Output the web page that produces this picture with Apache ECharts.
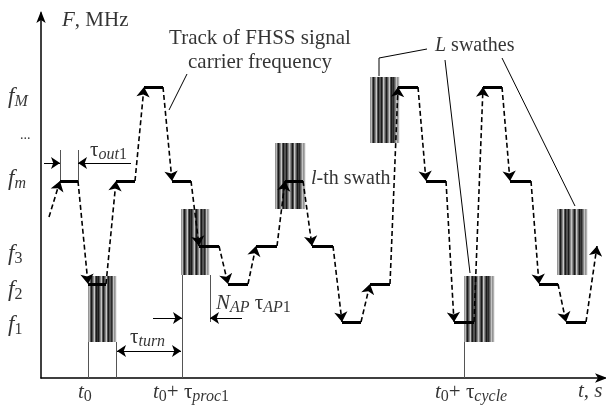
<!DOCTYPE html>
<html><head><meta charset="utf-8">
<script src="https://cdn.jsdelivr.net/npm/echarts@6/dist/echarts.min.js"></script>
<style>html,body{margin:0;padding:0;background:#fff}#c{width:606px;height:408px}</style>
</head><body><div id="c"></div>
<script>
// frequency levels (height above the time axis)
const levels = {f1:56, f2:94, f3:132, fm:197, fM:291};
// hops of the FHSS carrier: dwell start, dwell end, level
const hopStart = [19,47,75,103,131,158,187,215,244,271,301,329,357,385,413,442,469,498,525];
const hopEnd   = [37,65,94,122,150,178,207,236,262,292,320,349,377,405,433,461,490,517,545];
const hopLevel = ['fm','f2','fm','fM','fm','f3','f2','f3','fm','f3','f1','f2','fM','fm','f1','fM','fm','f2','f1'];
const trackStart = [8,161];
const trackEnd = [556,132];
// swathes (analysis windows)
const swathX0 = [47,140,234,329,423,516];
const swathX1 = [75,168,264,358,453,546];
const swathLow = [36,103,169,235,36,103];
const swathHigh = [102,169,235,301,102,169];
// thin vertical guides
const guideX  = [47,75,141,169,423,19,37];
const guideY0 = [0,0,0,56,0,197,197];
const guideY1 = [36,36,103,103,36,228,228];
// dimension arrows [from, to]
const dimArrows = [
  [[3,215],[19,215]], [[90,215],[37,215]],
  [[108,27],[76,27]], [[108,27],[140,27]],
  [[112,60],[141,60]], [[201,60],[169,60]]
];
// callout arrows (polylines)
const callouts = [
  [[146,304],[128,268]],
  [[386,329],[338,320],[338,302]],
  [[404,318],[429,105]],
  [[461,320],[534,172]]
];
// text labels: [x, y, rich text, anchor]
const texts = [
  [21,358,'{i|F}{n|, MHz}','left'],
  [219,340,'{n|Track of FHSS signal}','center'],
  [219,316,'{n|carrier frequency}','center'],
  [270,199,'{ii|l}{nn|-th swath}','left'],
  [394,332,'{ii|L}{nn| swathes}','left'],
  [49,228,'{n|τ}{si|out}{sn|1}','left'],
  [89,41,'{n|τ}{si|turn}','left'],
  [175,75,'{i|N}{si|AP}{n| τ}{si|AP}{sn|1}','left'],
  [-33,281,'{f|f}{si|M}','left'],
  [-21,243,'{d|...}','left'],
  [-33,199,'{f|f}{si|m}','left'],
  [-33,124,'{f|f}{sn|3}','left'],
  [-33,88,'{f|f}{sn|2}','left'],
  [-33,53,'{f|f}{sn|1}','left'],
  [37,-14,'{i|t}{sn|0}','left'],
  [112,-14,'{i|t}{sn|0}{n|+ τ}{si|proc}{sn|1}','left'],
  [394,-14,'{i|t}{sn|0}{n|+ τ}{si|cycle}','left'],
  [537,-13,'{i|t}{n|, }{i|s}','left']
];

const FF = '"Liberation Serif", "Times New Roman", serif';
const rich = {
  n: {fontFamily: FF, fontSize: 21, color: '#000', lineHeight: 24},
  i: {fontFamily: FF, fontSize: 21, color: '#000', fontStyle: 'italic', lineHeight: 24},
  nn: {fontFamily: FF, fontSize: 20, color: '#000', lineHeight: 24},
  ii: {fontFamily: FF, fontSize: 20, color: '#000', fontStyle: 'italic', lineHeight: 24},
  f: {fontFamily: FF, fontSize: 23, color: '#000', fontStyle: 'italic', lineHeight: 24},
  si: {fontFamily: FF, fontSize: 16, color: '#000', fontStyle: 'italic', lineHeight: 15, padding: [10,0,0,0]},
  sn: {fontFamily: FF, fontSize: 16, color: '#000', lineHeight: 15, padding: [10,0,0,0]},
  d: {fontFamily: FF, fontSize: 14, color: '#000', lineHeight: 14}
};

// build track pieces
const dwell = [], moves = [];
let prev = trackStart;
for (let k = 0; k < hopStart.length; k++) {
  const y = levels[hopLevel[k]];
  moves.push({coords: [prev, [hopStart[k], y]]});
  dwell.push({coords: [[hopStart[k], y], [hopEnd[k], y]]});
  prev = [hopEnd[k], y];
}
moves.push({coords: [prev, trackEnd]});

const stripes = [
  [0.03,'#b8b8b8',1.5],[0.11,'#1a1a1a',2],[0.2,'#c8c8c8',1],[0.28,'#1a1a1a',2],
  [0.37,'#1a1a1a',2],[0.46,'#c4c4c4',1],[0.55,'#1a1a1a',2],[0.64,'#c8c8c8',1],
  [0.72,'#1a1a1a',2],[0.81,'#2a2a2a',2],[0.89,'#c4c4c4',1],[0.97,'#b0b0b0',1.5]
];

const chart = echarts.init(document.getElementById('c'), null, {renderer: 'canvas'});
chart.setOption({
  animation: false,
  backgroundColor: '#fff',
  grid: {left: 41, top: 13, width: 564, height: 365},
  xAxis: {type: 'value', min: 0, max: 564, splitLine: {show: false}, axisTick: {show: false},
    axisLabel: {show: false},
    axisLine: {show: true, onZero: false, symbol: ['none','arrow'], symbolSize: [7,12], symbolOffset: [0,2],
      lineStyle: {color: '#000', width: 1.5}}},
  yAxis: {type: 'value', min: 0, max: 365, splitLine: {show: false}, axisTick: {show: false},
    axisLabel: {show: false},
    axisLine: {show: true, onZero: false, symbol: ['none','arrow'], symbolSize: [7,12], symbolOffset: [0,2],
      lineStyle: {color: '#000', width: 1.5}}},
  series: [
    {
      type: 'custom', clip: false, z: 2,
      data: swathX0.map((x, k) => [x, swathX1[k], swathLow[k], swathHigh[k]]),
      renderItem: function (params, api) {
        const a = api.coord([api.value(0), api.value(3)]);
        const b = api.coord([api.value(1), api.value(2)]);
        const w = b[0] - a[0], h = b[1] - a[1];
        const ch = [{type: 'rect', shape: {x: a[0], y: a[1], width: w, height: h}, style: {fill: '#8a8a8a'}}];
        stripes.forEach(s => {
          const xx = Math.round(a[0] + s[0] * w) + 0.5;
          ch.push({type: 'line', shape: {x1: xx, y1: a[1], x2: xx, y2: b[1]},
            style: {stroke: s[1], lineWidth: s[2]}});
        });
        return {type: 'group', children: ch};
      }
    },
    {
      type: 'lines', coordinateSystem: 'cartesian2d', z: 3,
      data: guideX.map((x, k) => ({coords: [[x, guideY0[k]], [x, guideY1[k]]]})),
      symbol: 'none', lineStyle: {color: '#555', width: 1, opacity: 1}
    },
    {
      type: 'lines', coordinateSystem: 'cartesian2d', z: 5,
      data: dwell, symbol: 'none', lineStyle: {color: '#000', width: 3, opacity: 1}
    },
    {
      type: 'lines', coordinateSystem: 'cartesian2d', z: 4,
      data: moves, symbol: ['none','arrow'], symbolSize: [6,10],
      lineStyle: {color: '#000', width: 1.6, type: [5,3], opacity: 1}
    },
    {
      type: 'lines', coordinateSystem: 'cartesian2d', z: 4,
      data: dimArrows.map(c => ({coords: c})), symbol: ['none','arrow'], symbolSize: [5,9],
      lineStyle: {color: '#000', width: 1, opacity: 1}
    },
    {
      type: 'lines', coordinateSystem: 'cartesian2d', polyline: true, z: 4,
      data: callouts.map(c => ({coords: c})), symbol: ['none','arrow'], symbolSize: [5,9],
      lineStyle: {color: '#000', width: 1, opacity: 1}
    },
    {
      type: 'scatter', clip: false, symbolSize: 0, z: 6,
      data: texts.map(t => ({
        value: [t[0], t[1]],
        label: {show: true, position: t[3] === 'center' ? 'inside' : 'right', distance: 0,
          formatter: t[2], rich: rich}
      }))
    }
  ]
});
</script></body></html>
